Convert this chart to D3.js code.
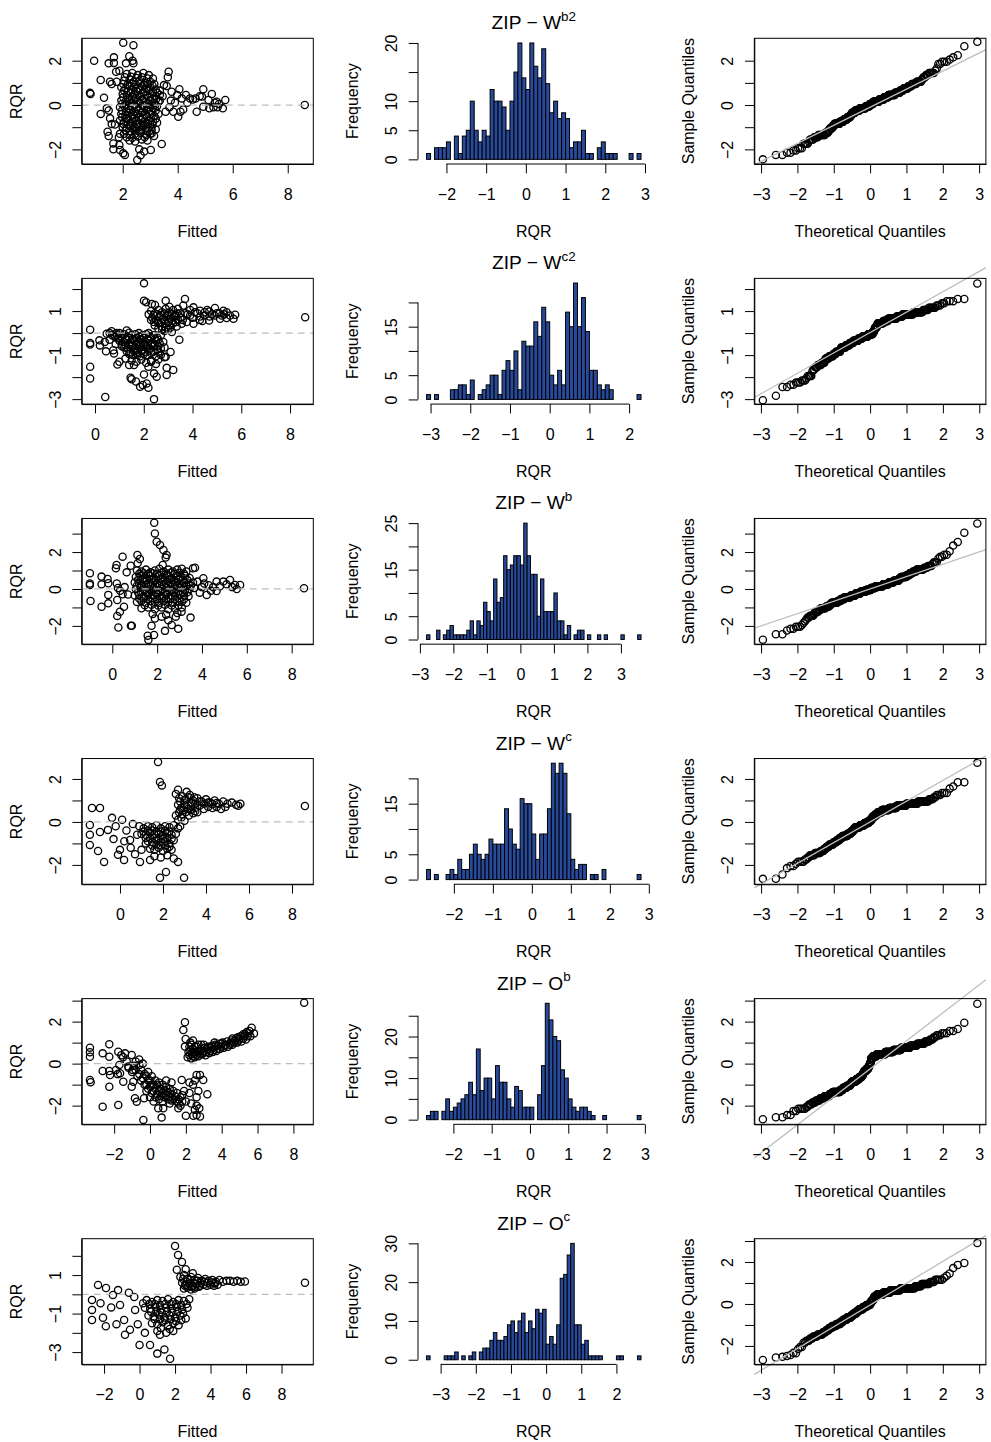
<!DOCTYPE html>
<html>
<head>
<meta charset="utf-8">
<script src="https://cdn.jsdelivr.net/npm/d3@7"></script>
<style>
  body { margin: 0; background: #fff; }
  text { font-family: "Liberation Sans", Arial, Helvetica, sans-serif; fill: #000; }
</style>
</head>
<body>
<svg id="chart" width="991" height="1442"></svg>
<script>
// ---- data ----
// histogram bar counts, bins of width 0.1 starting at histStart*
var histStartWb2 = -2.5;
var countsWb2 = [1,0,2,2,2,3,0,4,1,4,5,10,5,3,5,4,12,10,10,9,5,10,15,20,14,12,20,16,14,19,13,8,10,7,8,7,2,3,3,5,1,1,0,2,3,1,1,1,0,0,0,1,0,1];
var histStartWc2 = -3.1;
var countsWc2 = [1,0,1,0,0,0,2,2,3,3,1,4,0,1,2,3,5,5,1,6,8,6,10,2,12,11,11,16,13,19,16,5,3,6,3,18,15,24,15,21,14,6,6,3,2,3,2,0,0,0,0,0,0,1];
var histStartWb = -2.8;
var countsWb = [1,0,0,2,0,1,2,3,1,1,1,1,2,4,1,4,3,8,6,4,13,8,9,18,15,16,18,18,16,25,18,14,14,5,13,6,6,6,10,4,4,1,3,0,1,2,2,0,1,0,0,1,0,1,0,0,0,0,1,0,0,0,0,1];
var histStartWc = -2.7;
var countsWc = [2,0,1,0,0,1,2,1,4,2,2,5,7,5,4,5,8,7,7,7,14,10,7,6,16,15,15,9,4,9,9,14,23,21,23,21,13,4,2,3,3,0,1,1,0,2,0,0,0,0,0,0,0,0,1];
var histStartOb = -2.7;
var countsOb = [1,2,2,0,2,5,2,3,4,5,6,9,6,17,7,10,10,5,13,9,9,5,3,8,7,3,3,3,0,6,13,28,24,20,19,12,10,5,3,2,3,3,2,1,0,0,1,0,0,0,0,0,0,0,0,1];
var histStartOc = -3.4;
var countsOc = [1,0,0,0,0,1,1,1,2,0,1,0,1,2,0,2,3,3,5,7,5,5,6,9,10,7,10,12,7,10,8,13,12,13,4,6,4,9,21,22,27,30,9,9,4,5,1,1,1,1,0,0,0,0,1,1,0,0,0,0,1];
// the O^c Q-Q panel shows different extreme sample values than its histogram
var qqLowTailOc = [-2.67,-2.55,-2.52,-2.48,-2.43,-2.33];
var qqHighTailOc = [1.71,1.86,1.95,2.9];

// fitted value vs RQR, one [fitted, rqr] pair per circle
var fitRqrWb2 = [[0.81,0.55],[0.83,0.5],[0.96,2.0],[1.2,1.13],[1.32,0.33],[1.2,-0.4],[1.42,-0.15],[1.49,-0.25],[1.49,1.88],[1.68,2.15],[1.68,1.9],[1.54,1.05],[1.6,0.95],[1.78,1.05],[1.76,1.5],[1.88,1.55],[2.02,2.81],[2.39,2.7],[2.24,2.2],[2.36,2.0],[2.39,1.88],[2.12,1.88],[1.45,-1.2],[1.49,-1.4],[1.66,-1.73],[1.66,-2.0],[1.88,-1.8],[1.9,-2.03],[2.02,-2.18],[2.08,-2.25],[1.6,-0.86],[1.54,-0.6],[1.72,-0.88],[1.9,-1.3],[1.86,-1.45],[2.53,-2.48],[2.6,-2.0],[2.65,-2.26],[2.78,-2.1],[3.02,-2.03],[3.42,-1.76],[3.14,-1.4],[3.05,-1.28],[3.67,1.5],[3.64,1.25],[3.6,0.86],[3.5,0.9],[3.78,0.6],[4.06,0.71],[3.98,0.45],[4.15,0.3],[4.3,0.45],[4.45,0.3],[4.93,0.71],[4.8,0.4],[4.88,0.38],[5.24,0.5],[5.12,0.23],[5.42,0.15],[5.73,0.23],[5.64,-0.15],[5.3,-0.1],[5.15,-0.15],[4.93,-0.08],[4.69,-0.3],[4.02,-0.53],[3.84,-0.3],[3.56,-0.3],[4.2,-0.2],[4.35,0.1],[4.55,0.25],[4.65,0.3],[3.9,0.1],[3.75,0.2],[3.45,0.4],[3.35,0.2],[3.7,-0.1],[4.1,-0.3],[5.45,-0.1],[5.35,0.1],[5.5,0.05],[8.62,0.0],
  [2.15,1.4],[2.35,1.45],[2.55,1.35],[2.75,1.45],[2.95,1.35],[3.1,1.2],[2.05,1.1],[2.25,1.15],[2.4,1.05],[2.6,1.1],[2.8,1.0],[3.0,1.05],[3.15,0.95],[1.95,0.8],[2.1,0.75],[2.25,0.85],[2.4,0.8],[2.55,0.75],[2.7,0.85],[2.85,0.75],[3.0,0.8],[3.2,0.7],[3.35,0.65],[2.0,0.5],[2.15,0.45],[2.3,0.55],[2.45,0.5],[2.6,0.45],[2.75,0.55],[2.9,0.45],[3.05,0.5],[3.2,0.4],[3.35,0.45],[1.95,0.2],[2.1,0.15],[2.25,0.25],[2.4,0.2],[2.55,0.15],[2.7,0.25],[2.85,0.15],[3.0,0.2],[3.15,0.1],[3.3,0.15],[1.9,-0.1],[2.05,-0.05],[2.2,-0.15],[2.35,-0.05],[2.5,-0.1],[2.65,-0.15],[2.8,-0.05],[2.95,-0.1],[3.1,-0.15],[3.25,-0.05],[1.95,-0.4],[2.1,-0.45],[2.25,-0.35],[2.4,-0.45],[2.55,-0.4],[2.7,-0.35],[2.85,-0.45],[3.0,-0.4],[3.15,-0.5],[3.3,-0.4],[1.9,-0.7],[2.05,-0.75],[2.2,-0.65],[2.35,-0.75],[2.5,-0.7],[2.65,-0.65],[2.8,-0.75],[2.95,-0.7],[3.1,-0.75],[3.25,-0.8],[2.0,-1.0],[2.15,-1.05],[2.3,-0.95],[2.45,-1.05],[2.6,-1.0],[2.75,-0.95],[2.9,-1.05],[3.05,-1.0],[3.2,-1.1],[2.05,-1.3],[2.25,-1.35],[2.45,-1.3],[2.65,-1.25],[2.85,-1.35],[3.0,-1.3],[2.25,-1.6],[2.45,-1.65],[2.7,-1.55],[2.9,-1.6],
  [2.08,1.25],[2.3,1.28],[2.5,1.22],[2.7,1.25],[2.9,1.2],[2.02,0.95],[2.18,0.92],[2.33,0.98],[2.48,0.92],[2.63,0.98],[2.78,0.9],[2.93,0.95],[3.08,0.88],[2.05,0.65],[2.2,0.62],[2.35,0.68],[2.5,0.62],[2.65,0.68],[2.8,0.6],[2.95,0.65],[3.1,0.58],[3.25,0.55],[2.02,0.35],[2.18,0.32],[2.33,0.38],[2.48,0.32],[2.63,0.38],[2.78,0.3],[2.93,0.35],[3.08,0.28],[3.22,0.28],[1.98,0.05],[2.12,0.02],[2.28,0.08],[2.42,0.02],[2.58,0.08],[2.72,0.0],[2.88,0.05],[3.02,0.0],[3.18,0.0],[1.98,-0.25],[2.12,-0.3],[2.28,-0.22],[2.42,-0.3],[2.58,-0.25],[2.72,-0.3],[2.88,-0.22],[3.02,-0.28],[3.2,-0.25],[1.98,-0.55],[2.12,-0.6],[2.28,-0.52],[2.42,-0.6],[2.58,-0.55],[2.72,-0.6],[2.88,-0.52],[3.02,-0.58],[3.2,-0.62],[2.02,-0.85],[2.18,-0.88],[2.32,-0.82],[2.48,-0.88],[2.62,-0.82],[2.78,-0.88],[2.92,-0.85],[3.08,-0.88],[2.1,-1.15],[2.28,-1.18],[2.42,-1.12],[2.58,-1.18],[2.72,-1.12],[2.88,-1.18],[3.05,-1.15],[2.15,-1.45],[2.35,-1.48],[2.55,-1.42],[2.8,-1.45]];

var fitRqrWc2 = [[2.01,2.26],[8.62,0.72],[-0.2,0.15],[-0.2,-0.45],[-0.2,-0.52],[-0.2,-1.53],[-0.2,-2.06],[0.42,-2.9],[2.42,-3.0],[0.18,-0.33],[0.2,-0.56],[0.4,-0.4],[0.45,-0.83],[0.75,-0.78],[0.78,-0.93],[0.92,-1.43],[1.0,-1.3],[1.25,-1.16],[0.48,-0.03],[0.68,0.08],[0.88,0.0],[1.3,0.12],[0.6,-0.3],[0.85,-0.5],[1.1,-0.6],[1.46,-2.03],[1.5,-2.1],[1.68,-2.2],[1.85,-2.44],[1.96,-2.36],[2.12,-2.29],[2.19,-2.48],[2.01,-1.88],[2.19,-1.53],[2.42,-1.83],[2.53,-1.98],[2.94,-1.58],[3.21,-1.68],[2.94,-1.9],[3.46,-0.3],[3.1,-0.86],[2.9,-1.08],[1.4,-1.45],[1.6,-1.45],[1.75,-1.0],[2.3,-1.3],[2.6,-1.2],
  [2.01,1.47],[2.1,1.4],[2.33,1.32],[2.46,1.28],[2.9,1.47],[3.69,1.55],[3.62,1.25],[4.04,1.17],[4.31,1.02],[4.69,0.98],[4.92,1.14],[5.27,1.02],[5.54,0.8],[5.75,0.83],[5.68,0.65],[5.4,0.68],[5.13,0.65],[4.68,0.57],[4.31,0.75],[4.04,0.42],[3.76,0.5],[3.56,0.42],[3.4,1.1],[3.3,0.8],[3.5,0.9],[3.8,0.85],[4.0,0.7],[4.2,0.9],[4.5,0.8],[4.8,0.85],[5.0,0.9],[5.2,0.8],[5.4,0.95],[3.05,1.2],[2.2,0.85],[2.3,0.6],[3.9,1.05],[4.4,0.55],[4.6,1.05],
  [2.3,1.0],[2.45,0.9],[2.6,1.05],[2.75,0.95],[2.9,1.1],[3.05,0.95],[3.2,1.05],[3.35,0.9],[2.35,0.7],[2.5,0.6],[2.65,0.75],[2.8,0.65],[2.95,0.8],[3.1,0.65],[3.25,0.75],[3.4,0.6],[2.45,0.35],[2.6,0.45],[2.75,0.3],[2.9,0.45],[3.05,0.35],[3.2,0.45],[3.35,0.3],[2.85,0.1],[3.0,0.15],[3.15,0.05],
  [2.4,0.82],[2.55,0.85],[2.7,0.82],[2.85,0.88],[3.0,0.82],[3.15,0.85],[3.3,0.8],[2.42,0.5],[2.57,0.55],[2.72,0.5],[2.87,0.6],[3.02,0.5],[3.17,0.55],[3.32,0.5],[2.6,0.2],[2.75,0.15],[2.9,0.25],[3.1,0.25],[3.5,0.7],[3.6,0.6],[3.7,0.9],[3.9,0.8],[4.1,0.95],[4.3,0.6],[4.5,0.95],[4.7,0.75],[4.9,0.8],[5.1,0.9],[5.3,0.85],
  [0.9,-0.1],[1.05,-0.15],[1.2,-0.05],[1.35,-0.15],[1.5,-0.1],[1.65,-0.05],[1.8,-0.15],[1.95,-0.1],[2.1,-0.05],[2.25,-0.15],[2.4,-0.1],[2.55,-0.2],[2.7,-0.1],[1.0,-0.35],[1.15,-0.4],[1.3,-0.3],[1.45,-0.4],[1.6,-0.35],[1.75,-0.4],[1.9,-0.3],[2.05,-0.4],[2.2,-0.35],[2.35,-0.45],[2.5,-0.35],[2.65,-0.45],[2.8,-0.4],[1.2,-0.65],[1.35,-0.7],[1.5,-0.6],[1.65,-0.7],[1.8,-0.65],[1.95,-0.75],[2.1,-0.65],[2.25,-0.7],[2.4,-0.6],[2.55,-0.75],[2.7,-0.7],[2.85,-0.65],[1.4,-0.95],[1.55,-1.0],[1.7,-0.9],[1.85,-1.05],[2.0,-0.95],[2.15,-1.0],[2.3,-0.9],[2.5,-1.05],[2.7,-1.0],[2.85,-1.1],[1.5,-1.25],[1.7,-1.3],[1.9,-1.2],[2.1,-1.35],[2.3,-1.25],[2.5,-1.4],
  [0.95,-0.25],[1.1,-0.22],[1.25,-0.28],[1.4,-0.22],[1.55,-0.28],[1.7,-0.22],[1.85,-0.28],[2.0,-0.22],[2.15,-0.28],[2.3,-0.22],[2.45,-0.28],[2.6,-0.3],[1.1,-0.52],[1.25,-0.55],[1.4,-0.5],[1.55,-0.55],[1.7,-0.5],[1.85,-0.55],[2.0,-0.5],[2.15,-0.55],[2.3,-0.5],[2.45,-0.55],[2.6,-0.6],[1.3,-0.82],[1.45,-0.85],[1.6,-0.8],[1.75,-0.85],[1.9,-0.8],[2.05,-0.85],[2.2,-0.8],[2.4,-0.85],[2.6,-0.85],[0.8,-0.15],[0.7,-0.1],[0.6,0.0],[1.0,0.0],[1.4,0.02],[1.8,0.0],[2.2,0.0]];

var fitRqrWb = [[-1.0,0.85],[-1.0,0.3],[-1.0,0.22],[-0.97,-0.65],[-0.48,0.67],[-0.48,0.25],[-0.48,-0.96],[-0.21,0.54],[-0.18,0.31],[-0.18,-0.32],[-0.18,-0.78],[0.19,1.3],[0.16,1.12],[0.22,-0.6],[0.22,-1.46],[0.27,-2.09],[0.34,-1.23],[0.46,1.75],[0.46,-0.29],[0.52,-0.96],[0.64,0.9],[0.82,1.26],[0.83,-1.99],[0.87,-1.99],[1.12,1.84],[1.23,1.62],[1.13,1.39],[0.2,0.3],[0.25,0.05],[0.35,-0.1],[0.55,0.1],[0.7,-0.3],
  [1.87,3.59],[1.9,3.01],[1.98,2.56],[2.13,2.38],[2.28,2.11],[2.42,1.84],[2.38,1.7],[2.25,1.3],[1.58,-2.53],[1.61,-2.76],[1.75,-1.99],[1.86,-2.49],[2.35,-2.27],[2.65,-1.95],[2.94,-2.16],[2.83,-1.5],[3.49,-1.55],[3.09,-1.23],[2.5,-1.7],[2.2,-1.5],[1.9,-1.6],
  [3.69,1.15],[3.6,1.12],[4.06,0.58],[4.65,0.4],[4.95,0.4],[5.25,0.49],[5.47,0.22],[5.7,0.22],[5.55,0.0],[4.65,-0.11],[4.21,-0.32],[4.0,0.1],[4.3,0.2],[4.5,0.1],[4.8,0.15],[5.1,0.25],[5.35,0.1],[3.9,-0.2],[4.4,-0.1],[3.8,0.4],[4.1,0.3],[8.55,0.04],
  [1.1,1.0],[1.3,0.95],[1.5,1.05],[1.7,0.9],[1.9,1.0],[2.1,1.1],[2.3,0.95],[2.5,1.05],[2.7,0.95],[2.9,1.05],[3.1,1.1],[3.3,0.95],[1.05,0.65],[1.25,0.7],[1.45,0.6],[1.65,0.7],[1.85,0.6],[2.05,0.7],[2.25,0.65],[2.45,0.75],[2.65,0.6],[2.85,0.7],[3.05,0.65],[3.25,0.7],[3.45,0.6],[1.0,0.35],[1.2,0.3],[1.4,0.4],[1.6,0.3],[1.8,0.35],[2.0,0.3],[2.2,0.4],[2.4,0.3],[2.6,0.35],[2.8,0.4],[3.0,0.3],[3.2,0.35],[3.4,0.3],[3.6,0.35],[1.05,0.0],[1.25,0.05],[1.45,-0.05],[1.65,0.0],[1.85,0.05],[2.05,-0.05],[2.25,0.0],[2.45,0.05],[2.65,-0.05],[2.85,0.0],[3.05,0.05],[3.25,-0.05],[3.45,0.0],[3.65,0.05],[1.0,-0.35],[1.2,-0.3],[1.4,-0.4],[1.6,-0.3],[1.8,-0.35],[2.0,-0.3],[2.2,-0.4],[2.4,-0.3],[2.6,-0.35],[2.8,-0.4],[3.0,-0.3],[3.2,-0.35],[3.4,-0.4],[1.1,-0.7],[1.3,-0.65],[1.5,-0.75],[1.7,-0.65],[1.9,-0.7],[2.1,-0.75],[2.3,-0.65],[2.5,-0.7],[2.7,-0.75],[2.9,-0.65],[3.1,-0.7],[3.3,-0.75],[1.3,-1.05],[1.6,-1.0],[1.9,-1.1],[2.2,-1.0],[2.5,-1.1],[2.8,-1.05],[3.1,-1.0],[1.8,-1.35],[2.4,-1.4],[2.9,-1.3],
  [1.2,0.82],[1.4,0.85],[1.6,0.8],[1.8,0.85],[2.0,0.82],[2.2,0.88],[2.4,0.82],[2.6,0.88],[2.8,0.82],[3.0,0.88],[3.2,0.82],[1.15,0.5],[1.35,0.52],[1.55,0.48],[1.75,0.52],[1.95,0.48],[2.15,0.55],[2.35,0.5],[2.55,0.52],[2.75,0.48],[2.95,0.52],[3.15,0.5],[3.35,0.48],[1.1,0.18],[1.3,0.15],[1.5,0.2],[1.7,0.15],[1.9,0.2],[2.1,0.15],[2.3,0.2],[2.5,0.15],[2.7,0.2],[2.9,0.15],[3.1,0.2],[3.3,0.15],[3.5,0.18],[1.15,-0.18],[1.35,-0.15],[1.55,-0.2],[1.75,-0.15],[1.95,-0.2],[2.15,-0.15],[2.35,-0.2],[2.55,-0.15],[2.75,-0.2],[2.95,-0.15],[3.15,-0.2],[3.35,-0.18],[1.2,-0.52],[1.4,-0.5],[1.6,-0.55],[1.8,-0.5],[2.0,-0.55],[2.2,-0.5],[2.4,-0.55],[2.6,-0.5],[2.8,-0.55],[3.0,-0.5],[3.2,-0.55],[1.45,-0.88],[1.75,-0.85],[2.05,-0.9],[2.35,-0.85],[2.65,-0.9],[2.95,-0.88]];

var fitRqrWc = [[1.77,2.79],[1.86,1.86],[1.95,1.7],[8.6,0.74],[-1.4,-0.6],[-1.4,-1.07],[-1.4,-0.14],[-1.3,0.65],[-0.93,0.65],[-0.93,-0.47],[-1.02,-1.35],[-0.74,-1.86],[-0.09,-1.53],[0.0,-1.3],[0.19,-1.77],[0.47,-0.84],[-0.56,-0.37],[-0.37,0.19],[0.93,-1.86],[1.86,-2.6],[2.14,-2.33],[2.98,-2.6],[2.7,-1.86],[1.4,-1.77],[-0.2,-0.2],[0.1,0.1],[0.3,-0.4],[0.6,-0.1],[0.8,-0.6],[0.5,-1.2],[0.2,-0.9],[-0.3,-0.8],[1.0,-1.3],[1.2,-1.0],[0.7,-1.5],
  [0.9,-0.2],[1.1,-0.3],[1.3,-0.2],[1.5,-0.25],[1.7,-0.15],[1.9,-0.3],[2.1,-0.2],[2.3,-0.25],[2.5,-0.15],[2.7,-0.3],[1.0,-0.55],[1.2,-0.6],[1.4,-0.5],[1.6,-0.6],[1.8,-0.55],[2.0,-0.65],[2.2,-0.5],[2.4,-0.6],[2.6,-0.55],[1.3,-0.9],[1.5,-0.95],[1.7,-0.85],[1.9,-0.95],[2.1,-0.9],[2.3,-1.0],[2.5,-0.85],[1.4,-1.25],[1.6,-1.3],[1.8,-1.2],[2.0,-1.35],[2.2,-1.25],[2.4,-1.3],[1.6,-1.6],[1.9,-1.65],[2.2,-1.55],[2.5,-1.7],
  [1.1,-0.45],[1.3,-0.4],[1.5,-0.4],[1.7,-0.45],[1.9,-0.45],[2.1,-0.4],[2.3,-0.45],[1.2,-0.75],[1.4,-0.75],[1.6,-0.75],[1.8,-0.8],[2.0,-0.8],[2.2,-0.75],[2.4,-0.78],[1.5,-1.1],[1.7,-1.05],[1.9,-1.1],[2.1,-1.1],[2.3,-1.15],
  [2.6,1.3],[2.75,1.1],[2.9,1.2],[3.05,1.05],[3.2,1.15],[3.4,1.0],[3.6,1.1],[3.8,0.95],[4.0,1.05],[4.2,0.9],[4.4,1.0],[4.6,0.85],[4.8,0.95],[5.0,0.85],[5.2,0.9],[5.4,0.8],[5.6,0.85],[5.5,0.75],[2.7,0.8],[2.85,0.65],[3.0,0.8],[3.15,0.6],[3.3,0.75],[3.5,0.65],[3.7,0.75],[3.9,0.6],[4.1,0.7],[4.3,0.65],[4.5,0.7],[4.7,0.6],[4.9,0.7],[2.75,0.45],[2.9,0.35],[3.05,0.45],[3.2,0.3],[3.4,0.4],[3.6,0.45],[2.7,0.1],[2.85,0.2],[3.0,0.05],[2.8,-0.2],[2.6,0.3],[2.7,1.5],[3.1,1.4],
  [2.8,0.95],[3.0,1.0],[3.3,0.9],[3.5,0.85],[3.7,0.95],[3.9,0.85],[4.1,0.9],[4.3,0.82],[4.5,0.88],[2.95,0.55],[3.1,0.7],[3.3,0.55],[3.5,0.5],[2.8,0.55],[3.25,1.25],[3.45,1.15]];

var fitRqrOb = [[8.6,2.9],[1.95,1.97],[1.86,1.6],[1.99,1.17],[1.95,0.81],[-3.35,0.76],[-3.35,0.54],[-3.35,0.33],[-3.35,-0.78],[-3.31,-0.89],[-2.64,0.49],[-2.64,-0.35],[-2.64,-2.05],[-2.27,0.92],[-2.27,0.33],[-2.27,-0.35],[-2.23,-0.54],[-2.27,-1.1],[-1.77,0.57],[-1.77,-1.97],[-1.71,-0.06],[-1.67,-0.46],[-1.49,-0.86],[-1.39,0.49],[-1.21,-0.14],[-1.02,0.41],[-0.97,-0.3],[-0.93,-0.86],[-1.02,-1.1],[-0.84,-1.65],[-0.74,-1.81],[-0.59,-0.06],[-0.33,-1.65],[-0.37,-2.68],[-1.6,0.4],[-1.5,0.3],[-1.3,0.1],[-0.8,0.1],[-0.6,0.2],[-0.4,0.0],[-1.9,-0.3],[-1.8,-0.5],
  [1.77,-0.78],[2.6,-0.54],[2.79,-0.54],[2.97,-0.78],[3.2,-1.46],[2.75,-2.13],[2.79,-2.52],[2.6,-2.45],[2.0,-2.48],[2.42,-2.48],[0.65,-2.57],[0.46,-2.13],[0.74,-2.13],[1.58,-2.13],[1.7,-2.0],[2.5,-2.2],[2.3,-1.9],[2.6,-1.6],[2.7,-1.3],[2.4,-1.0],[2.2,-1.4],[2.0,-1.8],[1.8,-1.5],[1.6,-1.9],[2.5,-0.8],[2.2,-0.9],[2.6,-2.0],
  [-1.2,-0.2],[-1.0,-0.4],[-0.8,-0.3],[-0.7,-0.6],[-0.5,-0.3],[-0.5,-0.8],[-0.3,-0.5],[-0.3,-1.0],[-0.1,-0.4],[-0.1,-0.8],[-0.1,-1.2],[0.1,-0.6],[0.1,-1.0],[0.1,-1.4],[0.3,-0.8],[0.3,-1.2],[0.3,-1.6],[0.5,-0.9],[0.5,-1.3],[0.5,-1.7],[0.7,-1.0],[0.7,-1.4],[0.7,-1.8],[0.9,-1.1],[0.9,-1.5],[1.1,-1.2],[1.1,-1.6],[1.1,-1.9],[1.3,-1.3],[1.3,-1.7],[1.5,-1.4],[1.5,-1.8],[1.7,-1.6],[1.9,-1.3],[0.0,-1.6],[-0.2,-1.3],[0.2,-1.8],[0.9,-0.8],[1.2,-0.9],
  [-0.9,-0.1],[-0.6,-0.5],[-0.4,-0.7],[-0.2,-0.6],[-0.2,-1.0],[0.0,-0.8],[0.0,-1.1],[0.2,-1.0],[0.2,-1.3],[0.4,-1.0],[0.4,-1.45],[0.6,-1.2],[0.6,-1.55],[0.8,-1.25],[0.8,-1.6],[1.0,-1.35],[1.0,-1.7],[1.2,-1.45],[1.4,-1.55],[1.6,-1.7],[1.8,-1.8],[1.2,-1.75],
  [2.1,0.3],[2.15,0.55],[2.2,0.8],[2.25,1.0],[2.3,0.25],[2.35,0.45],[2.4,0.7],[2.5,0.3],[2.55,0.55],[2.6,0.8],[2.7,0.35],[2.75,0.6],[2.85,0.9],[2.9,0.45],[3.0,0.6],[3.1,0.4],[3.2,0.7],[3.3,0.5],[3.4,0.75],[3.5,0.55],[3.6,0.8],[3.7,0.6],[3.8,0.85],[3.9,0.7],[4.0,0.95],[4.1,0.75],[4.2,0.9],[4.35,0.8],[4.5,1.0],[4.6,0.9],[4.75,1.1],[4.85,1.0],[5.0,1.2],[5.1,1.05],[5.25,1.3],[5.35,1.15],[5.5,1.45],[5.6,1.3],[5.67,1.71],[5.8,1.44],[5.4,1.5],[5.2,1.4],[4.9,1.25],[4.6,1.2],[3.6,1.0],[3.0,0.9],[2.4,1.1],
  [2.2,0.4],[2.25,0.65],[2.3,0.9],[2.4,0.35],[2.45,0.55],[2.5,0.8],[2.6,0.4],[2.65,0.6],[2.7,0.9],[2.8,0.45],[2.85,0.7],[2.95,0.5],[3.05,0.75],[3.15,0.55],[3.25,0.8],[3.35,0.6],[3.45,0.85],[3.55,0.65],[3.65,0.9],[3.75,0.7],[3.85,0.95],[3.95,0.8],[4.05,1.0],[4.15,0.85],[4.3,1.05],[4.45,0.9],[4.55,1.1],[4.7,1.0],[4.8,1.2],[4.95,1.1],[5.05,1.3],[5.2,1.2],[5.3,1.4],[5.45,1.3],[5.55,1.55]];

var fitRqrOc = [[9.32,0.6],[2.0,2.51],[2.17,2.04],[2.39,1.68],[2.1,1.28],[1.72,-3.35],[-2.34,0.49],[-2.68,-0.29],[-2.68,-0.81],[-2.68,-1.33],[-1.89,0.33],[-2.06,-1.22],[-1.21,0.22],[-1.1,-0.55],[-0.87,-1.33],[-0.82,-2.1],[0.0,-2.63],[0.59,-2.63],[1.15,-2.1],[-0.54,-1.84],[-0.25,-0.81],[-1.5,-0.03],[-1.6,-0.68],[-2.2,-0.46],[-0.6,0.08],[-0.3,-0.14],[0.2,-0.46],[-1.9,-1.66],[-1.3,-1.55],[-0.1,-1.55],[0.3,-2.0],[1.4,-2.86],[1.0,-3.08],
  [0.4,-0.3],[0.7,-0.4],[1.0,-0.3],[1.3,-0.35],[1.6,-0.25],[1.9,-0.4],[2.2,-0.3],[2.5,-0.35],[2.8,-0.25],[0.3,-0.7],[0.6,-0.75],[0.9,-0.65],[1.2,-0.8],[1.5,-0.7],[1.8,-0.75],[2.1,-0.65],[2.4,-0.8],[2.7,-0.7],[0.5,-1.1],[0.8,-1.15],[1.1,-1.05],[1.4,-1.2],[1.7,-1.1],[2.0,-1.2],[2.3,-1.1],[2.6,-1.25],[0.7,-1.5],[1.0,-1.55],[1.3,-1.45],[1.6,-1.6],[1.9,-1.5],[2.2,-1.6],[1.0,-1.9],[1.5,-2.0],[1.9,-1.9],
  [0.55,-0.5],[0.85,-0.5],[1.15,-0.55],[1.45,-0.5],[1.75,-0.5],[2.05,-0.5],[2.35,-0.55],[2.65,-0.5],[0.65,-0.9],[0.95,-0.9],[1.25,-0.95],[1.55,-0.9],[1.85,-0.95],[2.15,-0.9],[2.45,-1.0],[0.85,-1.3],[1.15,-1.3],[1.45,-1.35],[1.75,-1.3],[2.05,-1.4],[2.35,-1.35],[1.2,-1.75],[1.7,-1.8],
  [2.3,0.9],[2.5,1.0],[2.7,0.8],[2.9,0.9],[3.1,0.75],[3.3,0.85],[3.5,0.7],[3.7,0.8],[3.9,0.7],[4.1,0.75],[4.3,0.65],[4.5,0.75],[4.7,0.65],[4.9,0.7],[5.1,0.7],[5.3,0.65],[5.5,0.7],[5.7,0.65],[5.94,0.67],[2.4,0.6],[2.6,0.5],[2.8,0.55],[3.0,0.45],[3.2,0.55],[3.4,0.45],[3.6,0.5],[3.8,0.45],[4.0,0.5],[4.2,0.45],[4.4,0.5],[2.5,0.3],[2.7,0.35],[2.9,0.25],[3.1,0.3],[2.6,1.3],[3.0,1.1],
  [2.45,0.8],[2.65,0.65],[2.85,0.75],[3.05,0.6],[3.25,0.7],[3.45,0.6],[3.65,0.65],[3.85,0.6],[4.05,0.62],[4.25,0.58],[2.55,0.45],[2.75,0.45],[2.95,0.4],[3.15,0.4],[3.35,0.4]];

// axis limits as drawn (R usr ranges)
var fittedLims = [[0.509,8.93],[-0.546,8.954],[-1.365,8.965],[-1.78,8.99],[-3.81,9.11],[-3.26,9.79]];
var rqrLims = [[-2.66,3.01],[-3.225,2.485],[-2.99,3.82],[-2.9,2.95],[-2.89,3.095],[-3.64,2.89]];
var qqYLims = [[-2.66,3.01],[-3.225,2.485],[-2.99,3.82],[-2.9,2.95],[-2.89,3.095],[-2.88,3.11]];

// tick values and the labels R kept
var fittedTicks = [[2,4,6,8],[0,2,4,6,8],[0,2,4,6,8],[0,2,4,6,8],[-2,0,2,4,6,8],[-2,0,2,4,6,8]];
var rqrTicks = [[-2,-1,0,1,2],[-3,-2,-1,0,1,2],[-2,-1,0,1,2,3],[-2,-1,0,1,2],[-2,-1,0,1,2,3],[-3,-2,-1,0,1,2]];
var rqrLabels = [[-2,0,2],[-3,-1,1],[-2,0,2],[-2,0,2],[-2,0,2],[-3,-1,1]];
var qqYTicks = [[-2,-1,0,1,2],[-3,-2,-1,0,1,2],[-2,-1,0,1,2,3],[-2,-1,0,1,2],[-2,-1,0,1,2,3],[-2,-1,0,1,2,3]];
var qqYLabels = [[-2,0,2],[-3,-1,1],[-2,0,2],[-2,0,2],[-2,0,2],[-2,0,2]];
var histXTicks = [[-2,-1,0,1,2,3],[-3,-2,-1,0,1,2],[-3,-2,-1,0,1,2,3],[-2,-1,0,1,2,3],[-2,-1,0,1,2,3],[-3,-2,-1,0,1,2]];
var freqTicks = [[0,5,10,15,20],[0,5,10,15,20],[0,5,10,15,20,25],[0,5,10,15,20],[0,5,10,15,20,25],[0,10,20,30]];
var freqLabels = [[0,5,10,20],[0,5,15],[0,5,15,25],[0,5,15],[0,10,20],[0,10,20,30]];
var theoTicks = [-3,-2,-1,0,1,2,3];

var titleBase = ["W","W","W","W","O","O"];
var titleSup = ["b2","c2","b","c","b","c"];

// ---- layout ----
var svg = d3.select("#chart");
var rowTop0 = 38.3, rowStep = 240.08, plotH = 125.7;
var colLeft0 = 81.7, colStep = 336.3, plotW = 231.6;
var binWidth = 0.1;
var grey = "#bebebe", barFill = "#284a9c";
var ptR = 3.6, ptW = 1.3;

var models = [
  {start: histStartWb2, counts: countsWb2, pts: fitRqrWb2},
  {start: histStartWc2, counts: countsWc2, pts: fitRqrWc2},
  {start: histStartWb, counts: countsWb, pts: fitRqrWb},
  {start: histStartWc, counts: countsWc, pts: fitRqrWc},
  {start: histStartOb, counts: countsOb, pts: fitRqrOb},
  {start: histStartOc, counts: countsOc, pts: fitRqrOc, lowTail: qqLowTailOc, highTail: qqHighTailOc}
];

function fmt(v) { return v < 0 ? "\u2212" + (-v) : String(v); }

// inverse normal cdf (Acklam)
function qnorm(p) {
  var a = [-3.969683028665376e+01, 2.209460984245205e+02, -2.759285104469687e+02, 1.383577518672690e+02, -3.066479806614716e+01, 2.506628277459239e+00];
  var b = [-5.447609879822406e+01, 1.615858368580409e+02, -1.556989798598866e+02, 6.680131188771972e+01, -1.328068155288572e+01];
  var c = [-7.784894002430293e-03, -3.223964580411365e-01, -2.400758277161838e+00, -2.549732539343734e+00, 4.374664141464968e+00, 2.938163982698783e+00];
  var d = [7.784695709041462e-03, 3.224671290700398e-01, 2.445134137142996e+00, 3.754408661907416e+00];
  var q, r;
  if (p < 0.02425) {
    q = Math.sqrt(-2 * Math.log(p));
    return (((((c[0]*q+c[1])*q+c[2])*q+c[3])*q+c[4])*q+c[5]) / ((((d[0]*q+d[1])*q+d[2])*q+d[3])*q+1);
  }
  if (p > 1 - 0.02425) return -qnorm(1 - p);
  q = p - 0.5; r = q * q;
  return (((((a[0]*r+a[1])*r+a[2])*r+a[3])*r+a[4])*r+a[5])*q / (((((b[0]*r+b[1])*r+b[2])*r+b[3])*r+b[4])*r+1);
}

function padded(ext) { var d = ext[1] - ext[0]; return [ext[0] - 0.04 * d, ext[1] + 0.04 * d]; }

function bottomAxis(g, scale, ticks, top, lineFromTicks) {
  var ax = g.append("g").attr("transform", "translate(0," + (top + plotH) + ")")
    .call(d3.axisBottom(scale).tickValues(ticks).tickSize(9.3).tickSizeOuter(0).tickFormat(fmt));
  ax.attr("font-family", null).attr("font-size", null);
  if (lineFromTicks) ax.select(".domain").attr("d", "M" + scale(ticks[0]) + ",0H" + scale(ticks[ticks.length - 1]));
  ax.selectAll("path,line").attr("stroke", "#000").attr("stroke-width", 1);
  ax.selectAll("text").attr("y", 35.5).attr("dy", null).style("font-size", "16px");
}

function leftAxis(g, scale, ticks, labels, left, lineFromTicks) {
  var ax = g.append("g").attr("transform", "translate(" + left + ",0)")
    .call(d3.axisLeft(scale).tickValues(ticks).tickSize(9.3).tickSizeOuter(0).tickFormat(fmt));
  ax.attr("font-family", null).attr("font-size", null);
  if (lineFromTicks) ax.select(".domain").attr("d", "M0," + scale(ticks[0]) + "V" + scale(ticks[ticks.length - 1]));
  ax.selectAll("path,line").attr("stroke", "#000").attr("stroke-width", 1);
  ax.selectAll("text")
    .filter(function (v) { return labels.indexOf(v) < 0; }).remove();
  ax.selectAll("text").attr("x", null).attr("y", null).attr("dy", null)
    .attr("text-anchor", "middle").attr("transform", "translate(-21,0) rotate(-90)")
    .style("font-size", "16px");
}

function axisTitles(g, left, top, xt, yt) {
  g.append("text").attr("x", left + plotW / 2).attr("y", top + plotH + 73)
    .attr("text-anchor", "middle").style("font-size", "16px").text(xt);
  g.append("text").attr("transform", "translate(" + (left - 60) + "," + (top + plotH / 2) + ") rotate(-90)")
    .attr("text-anchor", "middle").style("font-size", "16px").text(yt);
}

function box(g, left, top) {
  g.append("rect").attr("x", left).attr("y", top).attr("width", plotW).attr("height", plotH)
    .attr("fill", "none").attr("stroke", "#000").attr("stroke-width", 1);
}

models.forEach(function (m, r) {
  var top = rowTop0 + r * rowStep;
  var values = [];
  m.counts.forEach(function (c, i) {
    for (var k = 0; k < c; k++) values.push(+(m.start + (i + 0.5) * binWidth).toFixed(3));
  });
  var end = +(m.start + m.counts.length * binWidth).toFixed(3);

  // ---- residuals vs fitted ----
  var left = colLeft0;
  var g = svg.append("g");
  var clipId = "clip" + r;
  svg.append("clipPath").attr("id", clipId).append("rect")
    .attr("x", left).attr("y", top).attr("width", plotW).attr("height", plotH);
  var x = d3.scaleLinear().domain(fittedLims[r]).range([left, left + plotW]);
  var y = d3.scaleLinear().domain(rqrLims[r]).range([top + plotH, top]);
  g.selectAll("circle").data(m.pts).enter().append("circle")
    .attr("cx", function (d) { return x(d[0]); }).attr("cy", function (d) { return y(d[1]); })
    .attr("r", ptR).attr("fill", "none").attr("stroke", "#000").attr("stroke-width", ptW);
  g.append("line").attr("clip-path", "url(#" + clipId + ")")
    .attr("x1", left).attr("x2", left + plotW).attr("y1", y(0)).attr("y2", y(0))
    .attr("stroke", grey).attr("stroke-width", 1.3).attr("stroke-dasharray", "7,5");
  bottomAxis(g, x, fittedTicks[r], top, false);
  leftAxis(g, y, rqrTicks[r], rqrLabels[r], left, false);
  box(g, left, top);
  axisTitles(g, left, top, "Fitted", "RQR");

  // ---- histogram ----
  left = colLeft0 + colStep;
  var gh = svg.append("g");
  var hx = d3.scaleLinear().domain(padded([m.start, end])).range([left, left + plotW]);
  var thresholds = d3.range(m.counts.length + 1).map(function (i) { return +(m.start + i * binWidth).toFixed(3); });
  var bins = d3.bin().domain([m.start, end]).thresholds(thresholds.slice(1, -1))(values);
  var maxCount = d3.max(bins, function (b) { return b.length; });
  var hy = d3.scaleLinear().domain(padded([0, maxCount])).range([top + plotH, top]);
  gh.selectAll("rect.bar").data(bins).enter().append("rect").attr("class", "bar")
    .attr("x", function (b) { return hx(b.x0); })
    .attr("width", function (b) { return hx(b.x1) - hx(b.x0); })
    .attr("y", function (b) { return hy(b.length); })
    .attr("height", function (b) { return hy(0) - hy(b.length); })
    .attr("fill", barFill).attr("stroke", "#000").attr("stroke-width", 1);
  bottomAxis(gh, hx, histXTicks[r], top, true);
  leftAxis(gh, hy, freqTicks[r], freqLabels[r], left, true);
  axisTitles(gh, left, top, "RQR", "Frequency");
  var title = gh.append("text").attr("x", left + plotW / 2).attr("y", top - 9)
    .attr("text-anchor", "middle").style("font-size", "19.2px");
  title.append("tspan").text("ZIP \u2212 " + titleBase[r]);
  title.append("tspan").attr("dy", -8.5).style("font-size", "13.4px").text(titleSup[r]);

  // ---- normal Q-Q ----
  left = colLeft0 + 2 * colStep;
  var gq = svg.append("g");
  var sorted = values.slice().sort(d3.ascending);
  if (m.lowTail) sorted.splice(0, m.lowTail.length);
  if (m.highTail) sorted.splice(sorted.length - m.highTail.length, m.highTail.length);
  sorted = (m.lowTail || []).concat(sorted, m.highTail || []);
  var n = sorted.length, a = n <= 10 ? 3 / 8 : 0.5;
  var qq = sorted.map(function (v, i) { return [qnorm((i + 1 - a) / (n + 1 - 2 * a)), v]; });
  var qx = d3.scaleLinear().domain(padded(d3.extent(qq, function (d) { return d[0]; }))).range([left, left + plotW]);
  var qy = d3.scaleLinear().domain(qqYLims[r]).range([top + plotH, top]);
  gq.selectAll("circle").data(qq).enter().append("circle")
    .attr("cx", function (d) { return qx(d[0]); }).attr("cy", function (d) { return qy(d[1]); })
    .attr("r", ptR).attr("fill", "none").attr("stroke", "#000").attr("stroke-width", ptW);
  var q1 = d3.quantileSorted(sorted, 0.25), q3 = d3.quantileSorted(sorted, 0.75);
  var z1 = qnorm(0.25), z3 = qnorm(0.75);
  var slope = (q3 - q1) / (z3 - z1), icpt = q1 - slope * z1;
  var xd = qx.domain();
  gq.append("line")
    .attr("x1", qx(xd[0])).attr("x2", qx(xd[1]))
    .attr("y1", qy(icpt + slope * xd[0])).attr("y2", qy(icpt + slope * xd[1]))
    .attr("stroke", grey).attr("stroke-width", 1.3);
  bottomAxis(gq, qx, theoTicks, top, false);
  leftAxis(gq, qy, qqYTicks[r], qqYLabels[r], left, false);
  box(gq, left, top);
  axisTitles(gq, left, top, "Theoretical Quantiles", "Sample Quantiles");
});
</script>
</body>
</html>
